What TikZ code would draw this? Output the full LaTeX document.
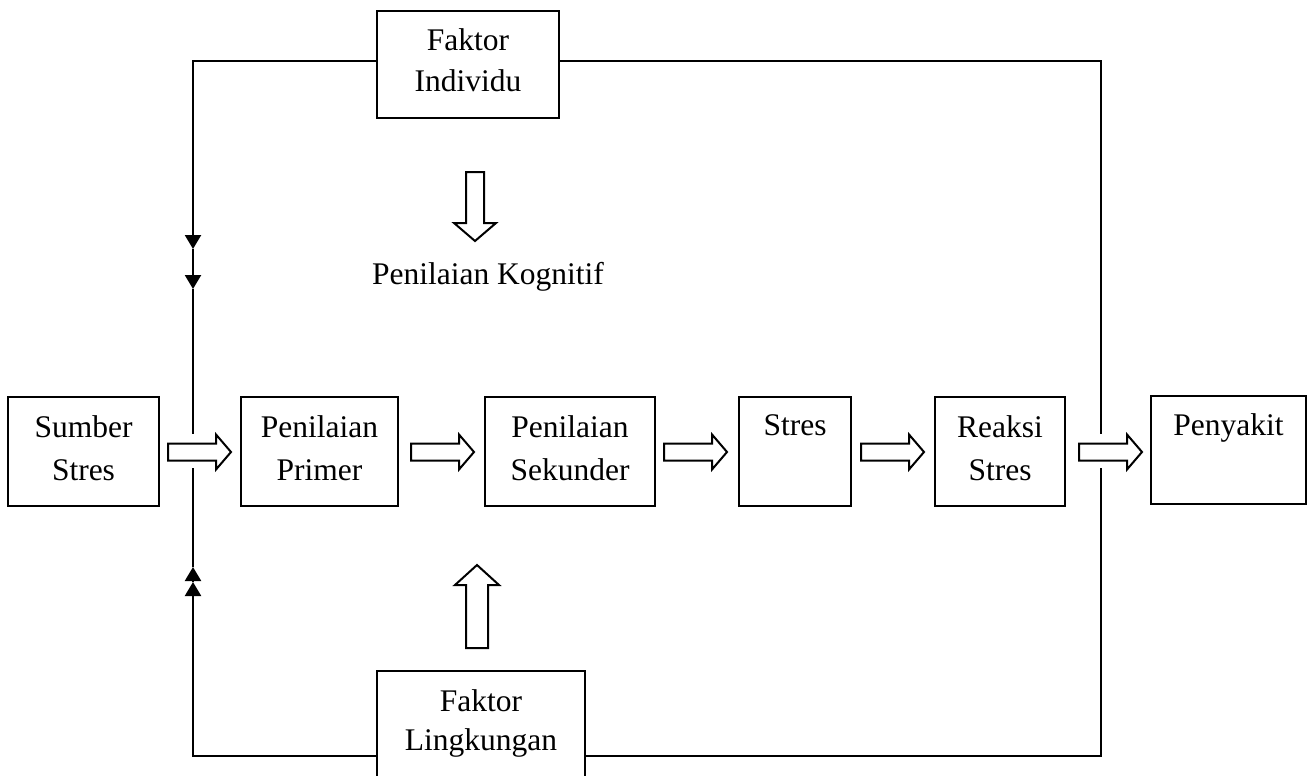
\documentclass[tikz,border=0pt]{standalone}
\usepackage{fontspec}
\setmainfont{Liberation Serif}
\usetikzlibrary{arrows.meta}
\begin{document}
\begin{tikzpicture}[x=1pt,y=-1pt,
  box/.style={draw, line width=2.2pt, inner sep=0pt},
  lbl/.style={font=\fontsize{31.5}{43}\selectfont, align=center, inner sep=0pt, anchor=base},
  conn/.style={line width=2.2pt},
  tipd/.style={-{Triangle[width=16pt,length=14pt]}},
  hollow/.style={draw, line width=2pt, fill=white, line join=miter},
  harr/.pic={\draw[hollow] (0,-8.5) -- (48,-8.5) -- (48,-17.5) -- (63,0) -- (48,17.5) -- (48,8.5) -- (0,8.5) -- cycle;}
]
\useasboundingbox (0,0) rectangle (1309,776);
% boxes
\node[box, minimum width=151pt, minimum height=109pt] (sumber) at (83.5,451.5) {};
\node[box, minimum width=157pt, minimum height=109pt] (primer) at (319.5,451.5) {};
\node[box, minimum width=170pt, minimum height=109pt] (sekunder) at (570,451.5) {};
\node[box, minimum width=112pt, minimum height=109pt] (stres) at (795,451.5) {};
\node[box, minimum width=130pt, minimum height=109pt] (reaksi) at (1000,451.5) {};
\node[box, minimum width=155pt, minimum height=108pt] (penyakit) at (1228.5,450) {};
\node[box, minimum width=182pt, minimum height=107pt] (fi) at (468,64.5) {};
\node[box, minimum width=208pt, minimum height=129pt] (fl) at (481,735.5) {};
% labels (anchor=base is the baseline of the last line)
\node[lbl] (tsumber) at (83.5,480) {Sumber\\Stres};
\node[lbl] (tprimer) at (319.5,480) {Penilaian\\Primer};
\node[lbl] (tsekunder) at (570,480) {Penilaian\\Sekunder};
\node[lbl] (tstres) at (795,435) {Stres};
\node[lbl] (treaksi) at (1000,480) {Reaksi\\Stres};
\node[lbl] (tpenyakit) at (1228.5,435) {Penyakit};
\node[lbl, font=\fontsize{31.5}{41}\selectfont] (tfi) at (468,92) {Faktor\\Individu};
\node[lbl, font=\fontsize{31.5}{39}\selectfont] (tfl) at (481,750) {Faktor\\Lingkungan};
\node[lbl] (tkog) at (488,284) {Penilaian Kognitif};
% connector coordinates
\coordinate (lt) at (193,61);
\coordinate (rt) at (1101,61);
\coordinate (lb) at (193,756);
\coordinate (rb) at (1101,756);
\coordinate (lgapT) at (193,434);
\coordinate (lgapB) at (193,468);
\coordinate (rgapT) at (1101,434);
\coordinate (rgapB) at (1101,468);
\coordinate (la1) at (193,249);
\coordinate (la2) at (193,289);
\coordinate (lb1) at (193,567);
\coordinate (lb2) at (193,582);
% left side
\draw[conn,tipd] (fi.west |- lt) -- (lt) -- (la1);
\draw[conn,tipd] (la1) -- (la2);
\draw[conn] (la2) -- (lgapT);
\draw[conn,tipd] (fl.west |- lb) -- (lb) -- (lb2);
\draw[conn,tipd] (lb2) -- (lb1);
\draw[conn] (lb1) -- (lgapB);
% right side
\draw[conn] (fi.east |- rt) -- (rt) -- (rgapT);
\draw[conn] (fl.east |- rb) -- (rb) -- (rgapB);
% hollow arrows
\pic at (168,452) {harr};
\pic at (411,452) {harr};
\pic at (664,452) {harr};
\pic at (861,452) {harr};
\pic at (1079,452) {harr};
\draw[hollow] (466,172) -- (484,172) -- (484,223) -- (496,223) -- (475,241) -- (454,223) -- (466,223) -- cycle;
\draw[hollow] (466,648) -- (488,648) -- (488,585) -- (499,585) -- (477,565) -- (455,585) -- (466,585) -- cycle;
\end{tikzpicture}
\end{document}
